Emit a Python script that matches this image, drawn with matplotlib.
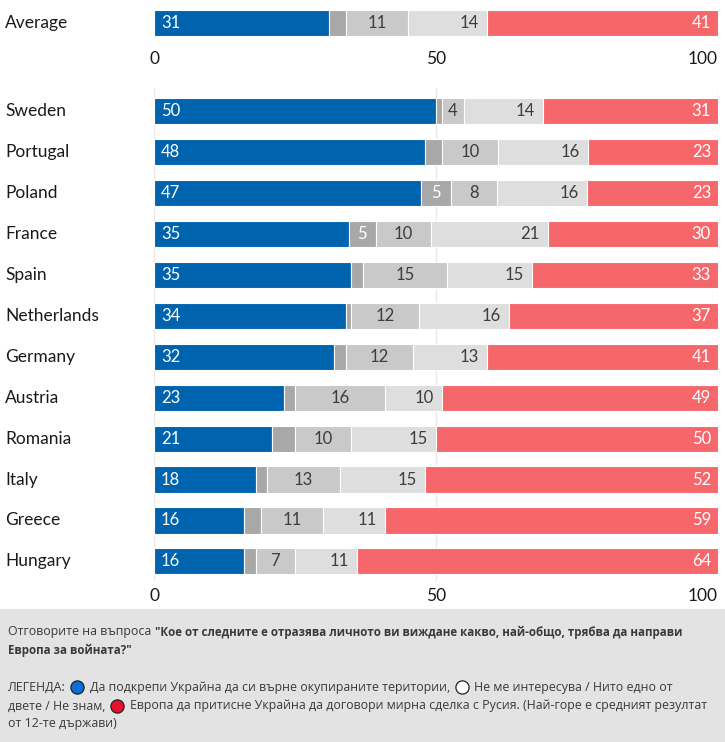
import matplotlib
matplotlib.use('Agg')
import matplotlib.pyplot as plt
import matplotlib.transforms as mtransforms
from matplotlib.lines import Line2D
from matplotlib.patches import Rectangle

# data (shares in %)
countries = ['Sweden', 'Portugal', 'Poland', 'France', 'Spain', 'Netherlands',
             'Germany', 'Austria', 'Romania', 'Italy', 'Greece', 'Hungary']
support_ukraine = [50, 48, 47.3, 34.6, 35, 34, 32, 23, 21, 18, 16, 16]
not_interested = [1, 3, 5.3, 4.7, 2, 1, 2, 2, 4, 2, 3, 2]
neither = [4, 10, 8.2, 9.9, 15, 12, 12, 16, 10, 13, 11, 7]
dont_know = [14, 16, 16.0, 20.6, 15, 16, 13, 10, 15, 15, 11, 11]
press_ukraine = [31, 23, 23.2, 30.2, 33, 37, 41, 49, 50, 52, 59, 64]

avg_label = 'Average'
avg_values = [31, 3, 11, 14, 41]

xticks = [0, 50, 100]

BLUE = '#0063ad'
GREY1 = '#a8a8a8'
GREY2 = '#c9c9c9'
GREY3 = '#dedede'
RED = '#f5676a'
DARK = '#3d3d3d'
CHART_FONT = 'Lato'
NOTE_FONT = 'Open Sans'

W, H = 725, 742


def fx(px):
    return px / W


def fy(py):
    return 1 - py / H


def seg_label(ax, x, y, s, dx, ha, color):
    ax.annotate(s, (x, y), xytext=(dx, 0), textcoords='offset pixels',
                ha=ha, va='center', color=color, fontsize=12,
                family=CHART_FONT, zorder=5)


def draw_row(ax, y, vals):
    colors = [BLUE, GREY1, GREY2, GREY3, RED]
    left = 0
    for i, (v, c) in enumerate(zip(vals, colors)):
        ax.barh(y, v, left=left, height=0.64, color=c, edgecolor='white',
                linewidth=0.8, zorder=2)
        txt = f'{v:.0f}'
        if i == 0:
            seg_label(ax, left, y, txt, 7, 'left', 'white')
        elif i == 1 and v >= 4.5:
            seg_label(ax, left + v / 2, y, txt, 0, 'center', 'white')
        elif i == 2:
            seg_label(ax, left + v / 2, y, txt, 0, 'center', DARK)
        elif i == 3:
            seg_label(ax, left + v, y, txt, -8, 'right', DARK)
        elif i == 4:
            seg_label(ax, left + v, y, txt, -7, 'right', 'white')
        left += v


def style_axis(ax):
    for s in ax.spines.values():
        s.set_visible(False)
    ax.set_xlim(0, 100)
    ax.set_yticks([])
    ax.set_xticks(xticks)
    ax.set_xticklabels([str(t) for t in xticks], family=CHART_FONT,
                       fontsize=12.5, color='#1a1a1a')
    ax.get_xticklabels()[-1].set_ha('right')
    ax.tick_params(axis='x', length=0, pad=5)


fig = plt.figure(figsize=(W / 100, H / 100), dpi=100)

# average row
ax_avg = fig.add_axes([fx(154), fy(44), (718 - 154) / W, 42 / H])
style_axis(ax_avg)
ax_avg.set_ylim(0.514, -0.514)
draw_row(ax_avg, 0, avg_values)
fig.text(fx(5), fy(23), avg_label, ha='left', va='center', fontsize=12.5,
         family=CHART_FONT, color='#1a1a1a')

# countries
ax_c = fig.add_axes([fx(154), fy(581), (718 - 154) / W, 493 / H])
style_axis(ax_c)
ax_c.set_ylim(11.48, -0.57)
for g in xticks:
    ax_c.axvline(g, color='#e9e9e9', lw=1, zorder=0)
rows = list(zip(support_ukraine, not_interested, neither, dont_know, press_ukraine))
trans = mtransforms.blended_transform_factory(fig.transFigure, ax_c.transData)
for i, (name, vals) in enumerate(zip(countries, rows)):
    draw_row(ax_c, i, vals)
    ax_c.text(fx(5), i, name, transform=trans, ha='left', va='center',
              fontsize=12.5, family=CHART_FONT, color='#1a1a1a')

# note box at the bottom
fig.add_artist(Rectangle((0, 0), 1, fy(609), transform=fig.transFigure,
                         facecolor='#e3e3e3', edgecolor='none', zorder=0))

renderer = fig.canvas.get_renderer()


def chain(x, y, pieces):
    # pieces: (text, weight, gap) or (marker face colour, gap)
    for p in pieces:
        if len(p) == 2:
            face, gap = p
            fig.add_artist(Line2D([fx(x + 6.5)], [fy(y)], marker='o',
                                  markersize=9.5, markerfacecolor=face,
                                  markeredgecolor='#222222', markeredgewidth=0.9,
                                  transform=fig.transFigure))
            x += 13 + gap
            continue
        s, weight, gap = p
        size = 8.3 if weight == 'bold' else 8.9
        t = fig.text(fx(x), fy(y), s, ha='left', va='center', fontsize=size,
                     family=NOTE_FONT, weight=weight, color='#3a3a3a')
        x = t.get_window_extent(renderer).x1 + gap


chain(8, 632, [('Отговорите на въпроса', 'normal', 3.5),
               ('"Кое от следните е отразява личното ви виждане какво, най-общо, трябва да направи',
                'bold', 0)])
chain(8, 650, [('Европа за войната?"', 'bold', 0)])
chain(8, 687, [('ЛЕГЕНДА:', 'normal', 5), ('#0a6fd8', 6),
               ('Да подкрепи Украйна да си върне окупираните територии,', 'normal', 5),
               ('#ffffff', 6), ('Не ме интересува / Нито едно от', 'normal', 0)])
chain(8, 706, [('двете / Не знам,', 'normal', 5), ('#e8112d', 6),
               ('Европа да притисне Украйна да договори мирна сделка с Русия. (Най-горе е средният резултат',
                'normal', 0)])
chain(8, 723, [('от 12-те държави)', 'normal', 0)])

fig.savefig('out.png', dpi=100)
